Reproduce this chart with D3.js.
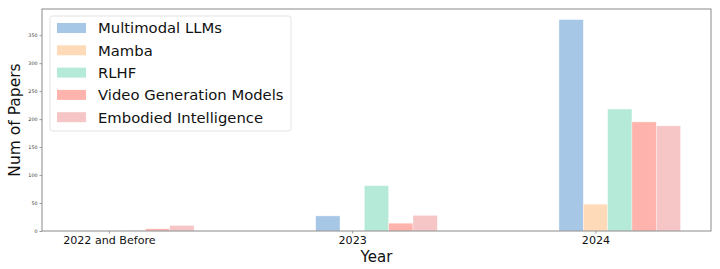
<!DOCTYPE html>
<html>
<head>
<meta charset="utf-8">
<script src="https://cdn.jsdelivr.net/npm/d3@7"></script>
<style>
  body { margin: 0; background: #fff; }
  text { font-family: "DejaVu Sans", sans-serif; }
</style>
</head>
<body>
<svg id="chart" width="720" height="269"></svg>
<script>
// data
const years = ["2022 and Before", "2023", "2024"];
const seriesNames = ["Multimodal LLMs", "Mamba", "RLHF", "Video Generation Models", "Embodied Intelligence"];
const multimodal = [0, 27, 378];
const mamba = [0, 0, 48];
const rlhf = [1, 81, 218];
const videoGen = [4, 14, 195];
const embodied = [10, 28, 188];
const colors = ["#a7c7e7", "#ffdab9", "#b4ead7", "#ffb3ad", "#f6c6c7"];
const yTicks = [0, 50, 100, 150, 200, 250, 300, 350];

const seriesValues = [multimodal, mamba, rlhf, videoGen, embodied];

const margin = {top: 9, right: 9, bottom: 38, left: 42};
const width = 720, height = 269;
const barW = 0.1;

const svg = d3.select("#chart");

// continuous x like matplotlib: group i at x=i, bars offset by (k-1)*barW
const x = d3.scaleLinear()
  .domain([-0.275, 2.475])
  .range([margin.left, width - margin.right]);

const yMax = d3.max(seriesValues.flat()) * 1.05;
const y = d3.scaleLinear()
  .domain([0, yMax])
  .range([height - margin.bottom, margin.top]);

// bars
seriesValues.forEach((vals, k) => {
  svg.append("g")
    .selectAll("rect")
    .data(vals)
    .enter().append("rect")
    .attr("x", (d, i) => x(i + (k - 1) * barW - barW / 2))
    .attr("width", x(barW) - x(0))
    .attr("y", d => y(d))
    .attr("height", d => y(0) - y(d))
    .attr("fill", colors[k])
    .attr("stroke", "#fff")
    .attr("stroke-opacity", 0.6)
    .attr("stroke-width", 0.6);
});

// axes
const xAxis = d3.axisBottom(x)
  .tickValues([0, 1, 2])
  .tickFormat(i => years[i])
  .tickSize(2.5)
  .tickPadding(3);
const gx = svg.append("g")
  .attr("transform", `translate(0,${height - margin.bottom})`)
  .call(xAxis);
gx.select(".domain").remove();
gx.selectAll(".tick line").attr("stroke", "#555").attr("stroke-width", 0.6);
gx.selectAll("text").attr("font-size", 11.1).attr("fill", "#111")
  .attr("font-family", "DejaVu Sans, sans-serif");

const yAxis = d3.axisLeft(y)
  .tickValues(yTicks)
  .tickSize(2.5)
  .tickPadding(2);
const gy = svg.append("g")
  .attr("transform", `translate(${margin.left},0)`)
  .call(yAxis);
gy.select(".domain").remove();
gy.selectAll(".tick line").attr("stroke", "#555").attr("stroke-width", 0.6);
gy.selectAll("text").attr("font-size", 4.8).attr("fill", "#333")
  .attr("font-family", "DejaVu Sans, sans-serif");

// frame
svg.append("rect")
  .attr("x", margin.left)
  .attr("y", margin.top)
  .attr("width", width - margin.left - margin.right)
  .attr("height", height - margin.top - margin.bottom)
  .attr("fill", "none")
  .attr("stroke", "#8a8a8a")
  .attr("stroke-width", 1);

// axis labels
svg.append("text")
  .attr("x", (margin.left + width - margin.right) / 2)
  .attr("y", 262)
  .attr("text-anchor", "middle")
  .attr("font-size", 15)
  .attr("fill", "#111")
  .text("Year");

svg.append("text")
  .attr("transform", `translate(20,${(margin.top + height - margin.bottom) / 2}) rotate(-90)`)
  .attr("text-anchor", "middle")
  .attr("font-size", 15.5)
  .attr("fill", "#111")
  .text("Num of Papers");

// legend
const legend = svg.append("g").attr("transform", "translate(50,16)");
legend.append("rect")
  .attr("width", 241)
  .attr("height", 115)
  .attr("rx", 2.5)
  .attr("fill", "#fff")
  .attr("fill-opacity", 0.85)
  .attr("stroke", "#dcdcdc")
  .attr("stroke-width", 0.8);

const rowH = 22.3;
const item = legend.selectAll("g.item")
  .data(seriesNames)
  .enter().append("g")
  .attr("class", "item")
  .attr("transform", (d, i) => `translate(0,${12 + i * rowH})`);
item.append("rect")
  .attr("x", 7)
  .attr("y", -5)
  .attr("width", 29)
  .attr("height", 10)
  .attr("fill", (d, i) => colors[i]);
item.append("text")
  .attr("x", 48)
  .attr("dy", "0.36em")
  .attr("font-size", 14.8)
  .attr("fill", "#111")
  .text(d => d);
</script>
</body>
</html>
